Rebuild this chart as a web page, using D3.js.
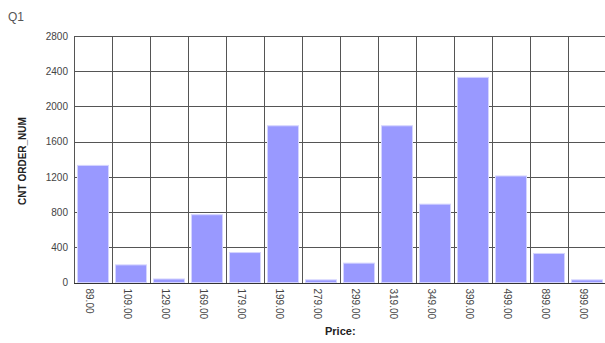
<!DOCTYPE html>
<html>
<head>
<meta charset="utf-8">
<script src="https://cdn.jsdelivr.net/npm/d3@7"></script>
<style>
  html, body { margin: 0; padding: 0; background: #fff; }
  svg { display: block; }
</style>
</head>
<body>
<div id="chart"></div>
<script>
// Order counts by price point
const prices = ["89.00", "109.00", "129.00", "169.00", "179.00", "199.00", "279.00",
                "299.00", "319.00", "349.00", "399.00", "499.00", "899.00", "999.00"];
const orderCounts = [1330, 200, 40, 770, 340, 1780, 30, 220, 1780, 890, 2330, 1210, 330, 30];
const yTicks = [0, 400, 800, 1200, 1600, 2000, 2400, 2800];

const W = 605, H = 343;
const plot = { left: 74, top: 36, right: 606, bottom: 282.5 };

const svg = d3.select("#chart").append("svg")
  .attr("width", W).attr("height", H);

const x = d3.scaleBand()
  .domain(prices)
  .range([plot.left, plot.right])
  .paddingInner(0)
  .paddingOuter(0);

const y = d3.scaleLinear()
  .domain([0, 2800])
  .range([plot.bottom, plot.top]);

// Horizontal grid lines
svg.append("g")
  .selectAll("line")
  .data(yTicks)
  .join("line")
  .attr("x1", plot.left).attr("x2", plot.right)
  .attr("y1", d => Math.round(y(d)) + 0.5)
  .attr("y2", d => Math.round(y(d)) + 0.5)
  .attr("stroke", "#555")
  .attr("stroke-width", 1);

// Vertical grid lines at category boundaries
const bounds = prices.map(p => x(p)).concat([plot.right]);
svg.append("g")
  .selectAll("line")
  .data(bounds)
  .join("line")
  .attr("x1", d => Math.round(d) + 0.5).attr("x2", d => Math.round(d) + 0.5)
  .attr("y1", plot.top).attr("y2", Math.round(plot.bottom) + 0.5)
  .attr("stroke", "#555")
  .attr("stroke-width", 1);

// Bars
const barPad = 3;
svg.append("g")
  .selectAll("rect")
  .data(prices.map((p, i) => ({ p, v: orderCounts[i] })))
  .join("rect")
  .attr("x", d => x(d.p) + barPad + 0.5)
  .attr("width", x.bandwidth() - barPad * 2 - 1)
  .attr("y", d => y(d.v))
  .attr("height", d => y(0) - y(d.v))
  .attr("fill", "#9999ff")
  .attr("stroke", "#d4d4ff")
  .attr("stroke-width", 1);

// Baseline
svg.append("line")
  .attr("x1", plot.left).attr("x2", plot.right)
  .attr("y1", Math.round(plot.bottom) + 0.5).attr("y2", Math.round(plot.bottom) + 0.5)
  .attr("stroke", "#333");

// Y axis labels
const yAxis = d3.axisLeft(y).tickValues(yTicks).tickSize(0).tickPadding(6)
  .tickFormat(d3.format("d"));
const gy = svg.append("g")
  .attr("transform", `translate(${plot.left},0)`)
  .call(yAxis);
gy.select(".domain").remove();
gy.selectAll("text")
  .attr("font-family", "Arial, 'Liberation Sans', sans-serif")
  .attr("font-size", 10)
  .attr("fill", "#444");

// X axis labels, rotated to read downward
const xAxis = d3.axisBottom(x).tickSize(0).tickPadding(0);
const gx = svg.append("g")
  .attr("transform", `translate(0,${plot.bottom})`)
  .call(xAxis);
gx.select(".domain").remove();
gx.selectAll("text")
  .attr("font-family", "Arial, 'Liberation Sans', sans-serif")
  .attr("font-size", 10)
  .attr("fill", "#444")
  .attr("text-anchor", "start")
  .attr("dy", null)
  .attr("y", 0)
  .attr("transform", "translate(-3.5,6) rotate(90)")
  .attr("dominant-baseline", "central")
  .attr("x", 0);

// Axis titles
svg.append("text")
  .attr("transform", "translate(22,161) rotate(-90)")
  .attr("text-anchor", "middle")
  .attr("dominant-baseline", "central")
  .attr("font-family", "Arial, 'Liberation Sans', sans-serif")
  .attr("font-size", 10)
  .attr("font-weight", "bold")
  .attr("fill", "#222")
  .text("CNT ORDER_NUM");

svg.append("text")
  .attr("x", 325).attr("y", 335)
  .attr("font-family", "Arial, 'Liberation Sans', sans-serif")
  .attr("font-size", 11)
  .attr("font-weight", "bold")
  .attr("fill", "#222")
  .text("Price:");

// Header label
svg.append("text")
  .attr("x", 8).attr("y", 21)
  .attr("font-family", "Arial, 'Liberation Sans', sans-serif")
  .attr("font-size", 12)
  .attr("fill", "#555")
  .text("Q1");
</script>
</body>
</html>
